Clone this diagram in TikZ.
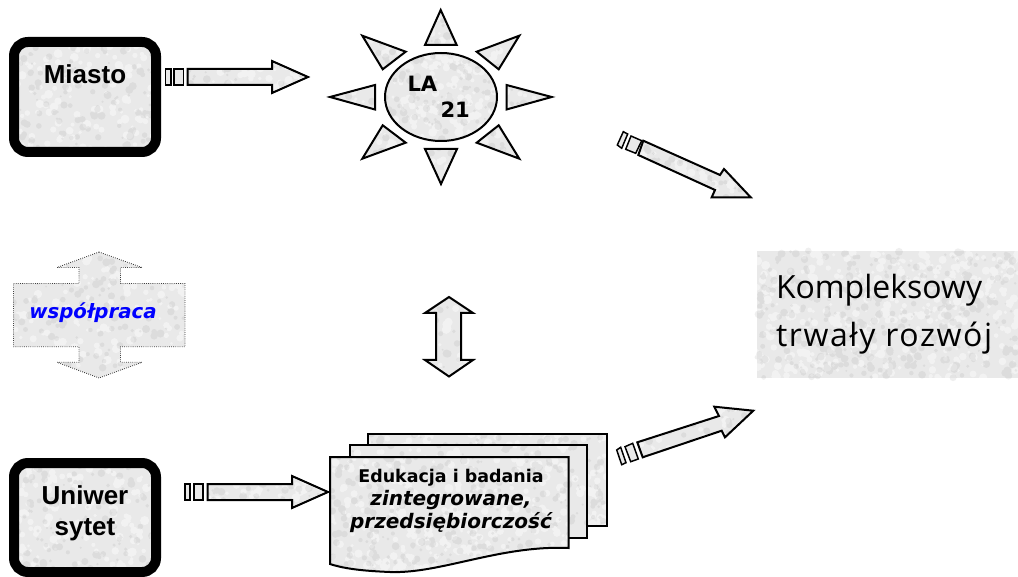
\documentclass[tikz,border=0pt]{standalone}
\usepackage{fontspec}
\setmainfont{Liberation Sans}
\newfontfamily\verd{DejaVu Sans}
\newfontfamily\comic{Open Sans}
\newfontfamily\comicwide[LetterSpace=5]{Open Sans}
\definecolor{basegrey}{HTML}{E9E9E9}
\definecolor{blueword}{HTML}{0000FF}
\newcommand{\mott}[5]{% x0 y0 x1 y1 count
  \fill[basegrey] (#1,#2) rectangle (#3,#4);
  \fill[white,opacity=0.45] foreach \i in {1,...,#5}{
    ({#1+rnd*(#3-#1)},{#2+rnd*(#4-#2)}) circle[radius={1.5+rnd*3}] };
  \fill[black!50,opacity=0.12] foreach \i in {1,...,#5}{
    ({#1+rnd*(#3-#1)},{#2+rnd*(#4-#2)}) circle[radius={1+rnd*3}] };
}
\newcommand{\texn}[7][outl]{% style, path, bbox, count
  \begin{scope}\clip #2; \mott{#3}{#4}{#5}{#6}{#7}\end{scope}
  \draw[#1] #2;
}
\tikzset{
  outl/.style={draw=black,line width=1.5pt,line join=miter},
  thin outl/.style={draw=black,line width=1.1pt,line join=miter},
  dotted outl/.style={draw=black!75,line width=0.6pt,densely dotted},
  heavy/.style={draw=black,line width=7.5pt,rounded corners=10.5pt},
  label/.style={inner sep=0pt,outer sep=0pt,font=\bfseries\fontsize{19.5}{23.25}\selectfont,align=center},
  vlabel/.style={inner sep=0pt,outer sep=0pt,font=\verd\bfseries\fontsize{15.8}{18}\selectfont},
  doclabel/.style={inner sep=0pt,outer sep=0pt,align=center,font=\verd\bfseries\fontsize{13.1}{17}\selectfont},
  ctext/.style={inner sep=0pt,outer sep=0pt,align=left,font=\comic\fontsize{24}{36}\selectfont},
}
\begin{document}
\begin{tikzpicture}[x=0.75pt,y=-0.75pt]
\pgfmathsetseed{42}
\useasboundingbox (0,0) rectangle (1018,577);
\fill[white] (0,0) rectangle (1018,577);

% Miasto and Uniwersytet boxes
\texn[heavy]{[rounded corners=10.5pt] (14,42) rectangle (156,152)}{10}{38}{160}{156}{150}
\texn[heavy]{[rounded corners=10.5pt] (14,463) rectangle (156,572)}{10}{459}{160}{576}{150}
\node[label] (miasto) at (85,74.5) {Miasto};
\node[label] (uni) at (85,513) {Uniwer\\sytet};

% arrow: Miasto to sun
\draw[thin outl,fill=basegrey] (165.5,69) rectangle (171,85);
\draw[thin outl,fill=basegrey] (174,69) rectangle (183.5,85);
\texn{(187.5,69) -- (272,69) -- (272,61) -- (308,77) -- (272,93) -- (272,85) -- (187.5,85) -- cycle}{187}{60}{309}{94}{40}

% sun
\texn{(441,97) ellipse[x radius=56,y radius=44]}{385}{53}{497}{141}{120}
\texn{(440.7,10) -- (456.7,45) -- (425,45) -- cycle}{424}{9}{458}{46}{12}
\texn{(441,184) -- (425,149) -- (457,149) -- cycle}{424}{148}{458}{185}{12}
\texn{(330,97) -- (375,85) -- (375,109.5) -- cycle}{329}{84}{376}{111}{12}
\texn{(551.7,97) -- (506.5,85) -- (506.5,109.5) -- cycle}{505}{84}{553}{111}{12}
\texn{(362.3,35.7) -- (405.7,51.7) -- (382.7,69.3) -- cycle}{361}{34}{407}{71}{12}
\texn{(519.3,35.7) -- (476.7,51.7) -- (498.7,69.3) -- cycle}{475}{34}{521}{71}{12}
\texn{(362.3,158.7) -- (405.7,142.7) -- (382.7,125.3) -- cycle}{361}{124}{407}{160}{12}
\texn{(519.3,158.7) -- (476.7,142.7) -- (498.7,125.3) -- cycle}{475}{124}{521}{160}{12}
\node[vlabel,anchor=base west] (la) at (407.5,92) {LA};
\node[vlabel,anchor=base west] (twentyone) at (440.5,118) {21};

% arrow: sun to result
\draw[thin outl,fill=basegrey] (623.3,131.7) -- (627.7,134) -- (621.7,148.3) -- (617.3,145) -- cycle;
\draw[thin outl,fill=basegrey] (631,136) -- (641.7,140.7) -- (635.7,153.3) -- (625.7,149.3) -- cycle;
\texn{(643.3,140.7) -- (720,175) -- (724,169) -- (750.7,197.3) -- (711.7,197.3) -- (715,190) -- (638.3,155) -- cycle}{636}{139}{752}{199}{60}

% result
\begin{scope}\mott{756.7}{250.7}{1018}{378}{400}\end{scope}
\node[ctext,anchor=west] (res) at (776,314) {Kompleksowy\\{\comicwide trwały rozwój}};

% wspolpraca
\texn[dotted outl]{(99,252) -- (142,267.5) -- (120.5,267.5) -- (120.5,283.5) -- (185,283.5) -- (185,346.7) -- (120.5,346.7) -- (120.5,362.3) -- (142,362.3) -- (99,378) -- (57,362.3) -- (79,362.3) -- (79,346.7) -- (13.5,346.7) -- (13.5,283.5) -- (79,283.5) -- (79,267.5) -- (57,267.5) -- cycle}{13}{252}{185}{378}{150}
\node[anchor=base,inner sep=0pt,text=blueword,font=\verd\bfseries\itshape\fontsize{14.8}{17}\selectfont] (wsp) at (93,319) {współpraca};

% double arrow
\texn[outl]{(449,297) -- (473,313) -- (461,313) -- (461,360) -- (473,360) -- (449,376.5) -- (425,360) -- (436,360) -- (436,313) -- (425,313) -- cycle}{425}{297}{473}{377}{30}

% arrow: university to documents
\draw[thin outl,fill=basegrey] (185,484) rectangle (190,500);
\draw[thin outl,fill=basegrey] (194,484) rectangle (203,500);
\texn{(207.5,484) -- (292,484) -- (292,476) -- (328,492) -- (292,508) -- (292,500) -- (207.5,500) -- cycle}{207}{475}{329}{509}{40}

% documents
\texn{(367.7,434) rectangle (606.7,526)}{367}{433}{607}{527}{220}
\texn{(350,445) rectangle (586.7,538)}{350}{445}{587}{539}{100}
\texn{(330,457) -- (568.7,457) -- (568.7,548) .. controls (500,545) and (440,574) .. (390,572) .. controls (365,571) and (345,569) .. (330,564) -- cycle}{330}{457}{569}{575}{300}
\node[doclabel] (doc) at (451,501) {Edukacja i badania\\{\itshape\fontsize{15}{17}\selectfont zintegrowane,}\\{\itshape\fontsize{15}{17}\selectfont przedsiębiorczość}};

% arrow: documents to result
\draw[thin outl,fill=basegrey] (616.7,450) -- (620.7,447.3) -- (626,462.7) -- (621.7,464.7) -- cycle;
\draw[thin outl,fill=basegrey] (625,446.7) -- (632.7,443.3) -- (638.3,459) -- (630.7,461.7) -- cycle;
\texn{(637.3,442.3) -- (719,416) -- (714.3,406.7) -- (753.3,410.7) -- (725,437.3) -- (721.7,430.7) -- (642.7,457.3) -- cycle}{636}{405}{755}{459}{60}
\end{tikzpicture}
\end{document}
